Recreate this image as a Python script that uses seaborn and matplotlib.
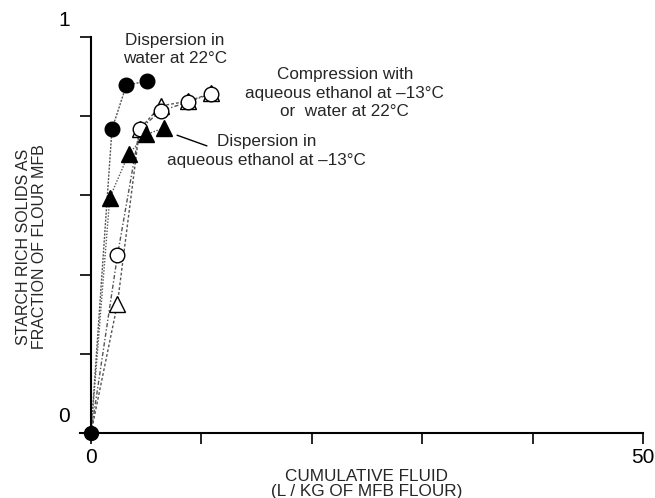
import matplotlib
matplotlib.use("Agg")
import matplotlib.pyplot as plt
import matplotlib.transforms as mtransforms
import seaborn as sns
import pandas as pd

sns.set_theme(style="ticks")
plt.rcParams["font.family"] = ["Liberation Sans", "DejaVu Sans"]

# Cumulative fluid (L/kg MFB flour) and starch-rich solids fraction
water_disp_x = [0.0, 1.9, 3.2, 5.1]
water_disp_y = [0.0, 0.767, 0.878, 0.889]

ethanol_disp_x = [0.0, 1.7, 3.4, 5.0, 6.6]
ethanol_disp_y = [0.0, 0.594, 0.704, 0.754, 0.770]

comp_circle_x = [0.0, 2.4, 4.4, 6.3, 8.8, 10.9]
comp_circle_y = [0.0, 0.449, 0.767, 0.813, 0.836, 0.857]

comp_triangle_x = [0.0, 2.4, 4.4, 6.3, 8.8, 10.9]
comp_triangle_y = [0.0, 0.327, 0.767, 0.826, 0.838, 0.858]

x_ticks = [0, 10, 20, 30, 40, 50]
x_ticklabels = ["0", "", "", "", "", "50"]
y_ticks = [0, 0.2, 0.4, 0.6, 0.8, 1.0]
y_ticklabels = ["0", "", "", "", "", "1"]

fig = plt.figure(figsize=(6.55, 4.98), dpi=100)
ax = fig.add_axes([0.1389, 0.1305, 0.8428, 0.7952])

series = [
    (comp_triangle_x, comp_triangle_y, "^", "white", (0, (2, 1.5))),
    (comp_circle_x, comp_circle_y, "o", "white", (0, (3, 1.5, 1, 1.5))),
    (ethanol_disp_x, ethanol_disp_y, "^", "black", (0, (1, 1.2))),
    (water_disp_x, water_disp_y, "o", "black", (0, (1.5, 1))),
]

for xs, ys, mk, fc, ls in series:
    df = pd.DataFrame({"x": xs, "y": ys})
    sns.lineplot(data=df, x="x", y="y", ax=ax, sort=False, color="#555555",
                 linewidth=1.0, linestyle=ls, clip_on=False)
    ax.plot(df["x"][1:], df["y"][1:], linestyle="none", marker=mk,
            markersize=10.5 if mk == "o" else 11, markerfacecolor=fc,
            markeredgecolor="black", markeredgewidth=1.0, clip_on=False, zorder=5)

ax.plot([0], [0], marker="o", markersize=10, color="black", clip_on=False, zorder=6)

ax.set_xlim(0, 50)
ax.set_ylim(0, 1)
ax.set_xticks(x_ticks)
ax.set_xticklabels(x_ticklabels)
ax.set_yticks(y_ticks)
ax.set_yticklabels(y_ticklabels)
ax.tick_params(axis="both", direction="out", length=8, width=1.2, colors="black",
               labelsize=15)
ax.tick_params(axis="x", pad=3)
ax.tick_params(axis="y", pad=7)
# y tick numbers sit a little above their ticks
lift = mtransforms.ScaledTranslation(0, 13 / 72, fig.dpi_scale_trans)
for lab in ax.get_yticklabels():
    lab.set_transform(lab.get_transform() + lift)

for side in ["top", "right"]:
    ax.spines[side].set_visible(False)
for side in ["left", "bottom"]:
    ax.spines[side].set_linewidth(1.5)
    ax.spines[side].set_color("black")
ax.spines["bottom"].set_bounds(-1, 50)

ax.set_xlabel("CUMULATIVE FLUID\n(L / KG OF MFB FLOUR)", fontsize=12.3, linespacing=1.0)
ax.xaxis.label.set_va("center")
ax.xaxis.set_label_coords(0.5, -0.13)
ax.set_ylabel("STARCH RICH SOLIDS AS\nFRACTION OF FLOUR MFB", fontsize=11.5, linespacing=1.05)
ax.yaxis.label.set_va("center")
ax.yaxis.set_label_coords(-0.108, 0.47)

txt = dict(fontsize=12.3, ha="center", va="center", linespacing=1.3)
ax.text(7.6, 0.968, "Dispersion in\nwater at 22°C", **txt)
ax.text(23.0, 0.858, "Compression with\naqueous ethanol at \u201313°C\nor  water at 22°C", **txt)
ax.text(15.9, 0.712, "Dispersion in\naqueous ethanol at \u201313°C", **txt)
ax.plot([7.8, 10.5], [0.752, 0.725], color="black", linewidth=1.0)

fig.savefig("out.png", dpi=100)
